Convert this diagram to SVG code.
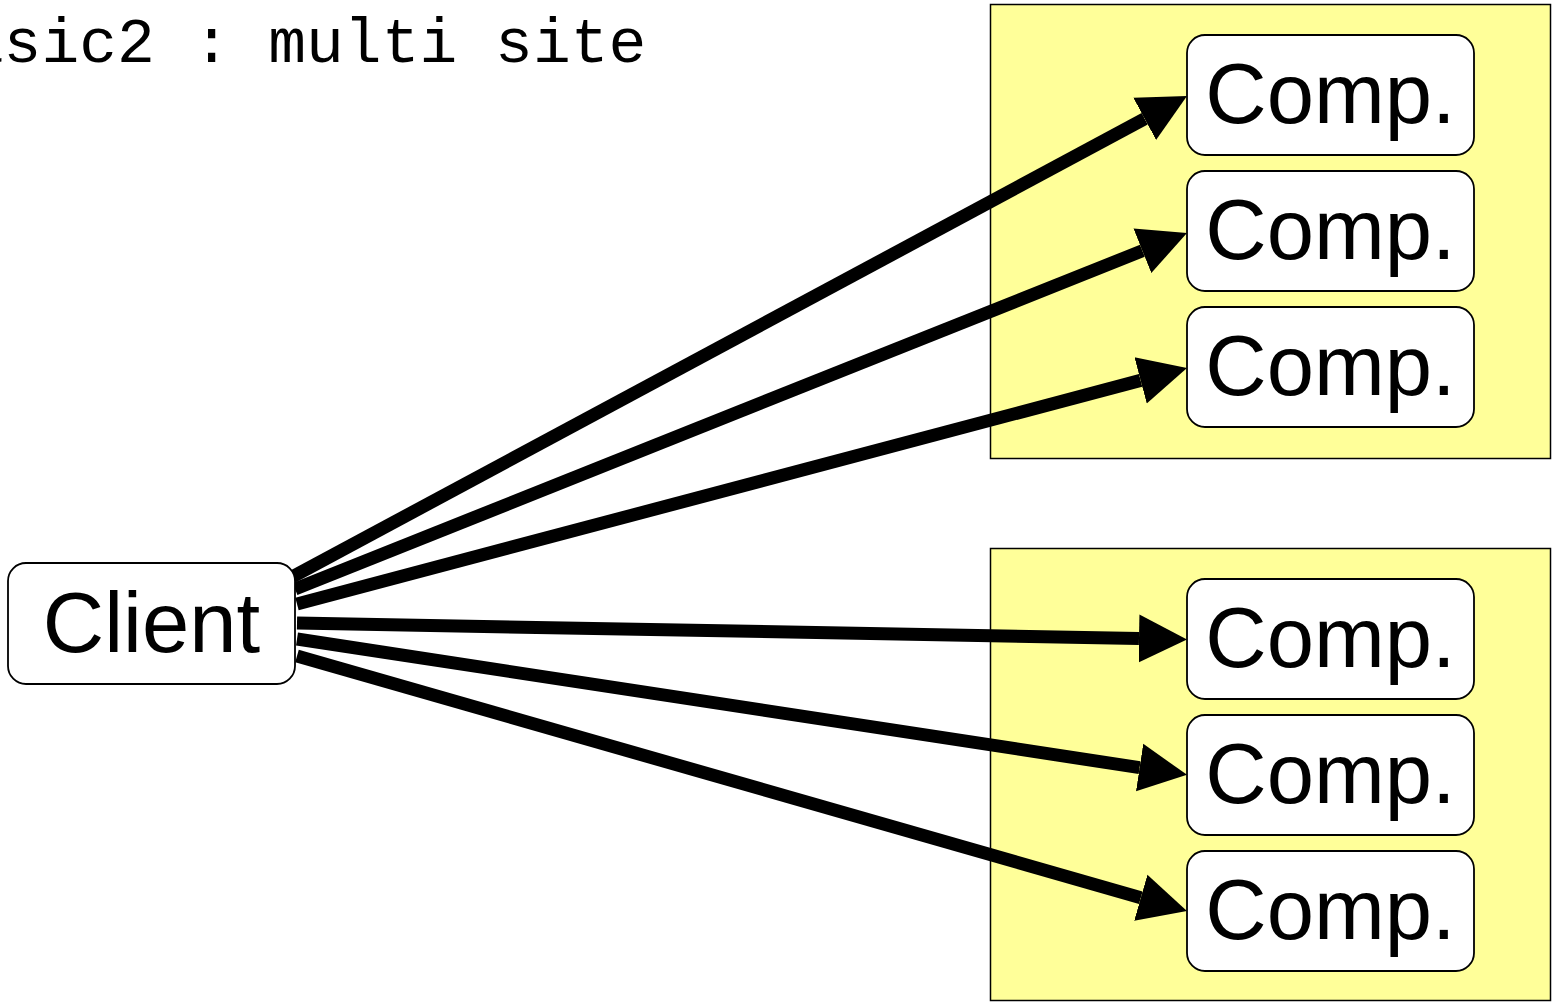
<svg xmlns="http://www.w3.org/2000/svg" width="1556" height="1002" viewBox="0 0 1556 1002">
<style>
.grp{fill:#ffff99;stroke:#000;stroke-width:1.5}
.node{fill:#fff;stroke:#000;stroke-width:1.8}
.lbl{font-family:"Liberation Sans",Arial,sans-serif;font-size:85px;fill:#000;text-anchor:middle}
.title{font-family:"Liberation Mono","DejaVu Sans Mono",monospace;font-size:63px;fill:#000}
.edge{stroke:#000;stroke-width:13;fill:none;marker-end:url(#ah)}
</style>
<defs>
<marker id="ah" markerUnits="userSpaceOnUse" markerWidth="50" markerHeight="52" refX="0" refY="25" orient="auto" viewBox="0 0 50 52">
<path d="M0,1 L48,25 L0,49 z" fill="#000"/>
</marker>
</defs>
<rect width="1556" height="1002" fill="#fff"/>
<text class="title" x="-72" y="62">basic2 : multi site</text>
<g id="site1"><rect class="grp" x="990.5" y="4.5" width="560" height="454"/></g>
<g id="site2"><rect class="grp" x="990.5" y="548.5" width="560" height="452"/></g>
<g id="connectors">
<line class="edge" x1="292" y1="577" x2="1144.7" y2="118.8"/>
<line class="edge" x1="295" y1="589" x2="1142.4" y2="250.8"/>
<line class="edge" x1="297" y1="604" x2="1140.6" y2="380.4"/>
<line class="edge" x1="297" y1="623" x2="1139" y2="638.5"/>
<line class="edge" x1="297" y1="639" x2="1139.6" y2="767.6"/>
<line class="edge" x1="297" y1="656" x2="1140.8" y2="897.8"/>
</g>
<g id="client"><rect class="node" x="8" y="563" width="287" height="121" rx="18"/><text class="lbl" x="151.5" y="652">Client</text></g>
<g id="comp1"><rect class="node" x="1187" y="35" width="287" height="120" rx="18"/><text class="lbl" x="1330.5" y="123">Comp.</text></g>
<g id="comp2"><rect class="node" x="1187" y="171" width="287" height="120" rx="18"/><text class="lbl" x="1330.5" y="259">Comp.</text></g>
<g id="comp3"><rect class="node" x="1187" y="307" width="287" height="120" rx="18"/><text class="lbl" x="1330.5" y="395">Comp.</text></g>
<g id="comp4"><rect class="node" x="1187" y="579" width="287" height="120" rx="18"/><text class="lbl" x="1330.5" y="667">Comp.</text></g>
<g id="comp5"><rect class="node" x="1187" y="715" width="287" height="120" rx="18"/><text class="lbl" x="1330.5" y="803">Comp.</text></g>
<g id="comp6"><rect class="node" x="1187" y="851" width="287" height="120" rx="18"/><text class="lbl" x="1330.5" y="939">Comp.</text></g>
</svg>
